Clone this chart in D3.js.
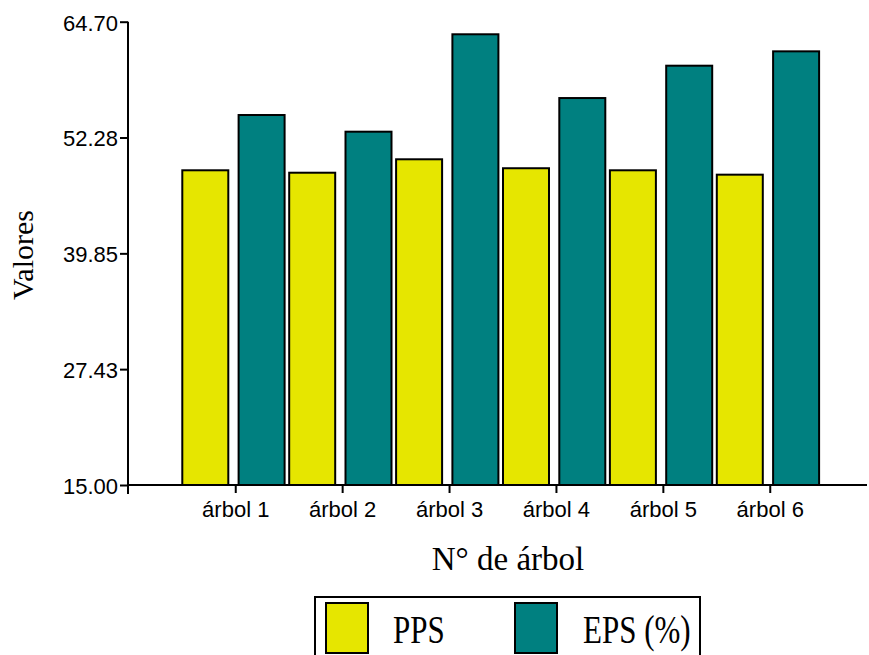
<!DOCTYPE html>
<html>
<head>
<meta charset="utf-8">
<script src="https://cdn.jsdelivr.net/npm/d3@7"></script>
<style>
  html, body { margin: 0; padding: 0; background: #fff; }
  svg { display: block; }
  .tick text { font-family: "Liberation Sans", Arial, sans-serif; font-size: 22px; fill: #000; }
  .serif { font-family: "Liberation Serif", "Times New Roman", serif; fill: #000; }
</style>
</head>
<body>
<svg id="chart" width="869" height="655"></svg>
<script>
// Tree numbers and the two measured series
const categories = ["árbol 1", "árbol 2", "árbol 3", "árbol 4", "árbol 5", "árbol 6"];
const seriesNames = ["PPS", "EPS (%)"];
const ppsValues = [48.76, 48.50, 49.94, 48.98, 48.76, 48.29];
const epsValues = [54.69, 52.90, 63.35, 56.51, 59.98, 61.52];
const yTickValues = [15.00, 27.43, 39.85, 52.28, 64.70];
const seriesColors = ["#e6e600", "#008080"];

const svg = d3.select("#chart");

const yMin = 15, yMax = 64.70;
const y = d3.scaleLinear().domain([yMin, yMax]).range([485, 21.7]);

const x0 = d3.scaleBand().domain(categories).range([182.3, 823.7]).padding(0);
const x1 = d3.scaleBand().domain(seriesNames)
  .range([0, x0.bandwidth() - 4.6]).paddingInner(0.183).paddingOuter(0);

const rows = categories.map((c, i) => ({ cat: c, vals: [ppsValues[i], epsValues[i]] }));

// Bars
const groups = svg.append("g").selectAll("g")
  .data(rows).join("g")
  .attr("transform", d => `translate(${x0(d.cat)},0)`);

groups.selectAll("rect")
  .data(d => d.vals.map((v, j) => ({ name: seriesNames[j], v, j })))
  .join("rect")
  .attr("x", d => x1(d.name))
  .attr("width", x1.bandwidth())
  .attr("y", d => y(d.v))
  .attr("height", d => y(yMin) - y(d.v))
  .attr("fill", d => seriesColors[d.j])
  .attr("stroke", "#000")
  .attr("stroke-width", 2);

// Y axis
const yAxis = svg.append("g")
  .attr("transform", "translate(128,0)")
  .call(d3.axisLeft(y).tickValues(yTickValues).tickFormat(d3.format(".2f"))
    .tickSize(8).tickPadding(2).tickSizeOuter(0));
yAxis.select(".domain").remove();
yAxis.selectAll(".tick line").attr("stroke", "#000").attr("stroke-width", 2);
yAxis.selectAll(".tick text").attr("dy", "0.38em");

// X axis
const xAxis = svg.append("g")
  .attr("transform", `translate(0,${y(yMin)})`)
  .call(d3.axisBottom(x0).tickSize(8).tickPadding(8).tickSizeOuter(0));
xAxis.select(".domain").remove();
xAxis.selectAll(".tick line").attr("stroke", "#000").attr("stroke-width", 2);
xAxis.selectAll(".tick text").attr("dy", "0.71em");

// Axis lines
svg.append("line")
  .attr("x1", 128).attr("x2", 128)
  .attr("y1", y(yMax)).attr("y2", y(yMin) + 9)
  .attr("stroke", "#000").attr("stroke-width", 2);
svg.append("line")
  .attr("x1", 127).attr("x2", 867)
  .attr("y1", y(yMin)).attr("y2", y(yMin))
  .attr("stroke", "#000").attr("stroke-width", 2);

// Axis titles
svg.append("text").attr("class", "serif")
  .attr("x", 508).attr("y", 570)
  .attr("text-anchor", "middle")
  .attr("font-size", 33)
  .text("N° de árbol");

svg.append("text").attr("class", "serif")
  .attr("transform", "translate(33,255) rotate(-90)")
  .attr("text-anchor", "middle")
  .attr("font-size", 30)
  .text("Valores");

// Legend
const legend = svg.append("g");
legend.append("rect")
  .attr("x", 315).attr("y", 597).attr("width", 385).attr("height", 80)
  .attr("fill", "#fff").attr("stroke", "#000").attr("stroke-width", 2);

const legendX = [326, 515];
const textX = [393, 583];
seriesNames.forEach((name, j) => {
  legend.append("rect")
    .attr("x", legendX[j]).attr("y", 603)
    .attr("width", 42).attr("height", 50)
    .attr("fill", seriesColors[j])
    .attr("stroke", "#000").attr("stroke-width", 2);
  legend.append("text").attr("class", "serif")
    .attr("transform", `translate(${textX[j]},643) scale(1,1.3)`)
    .attr("font-size", 31)
    .text(name);
});
</script>
</body>
</html>
